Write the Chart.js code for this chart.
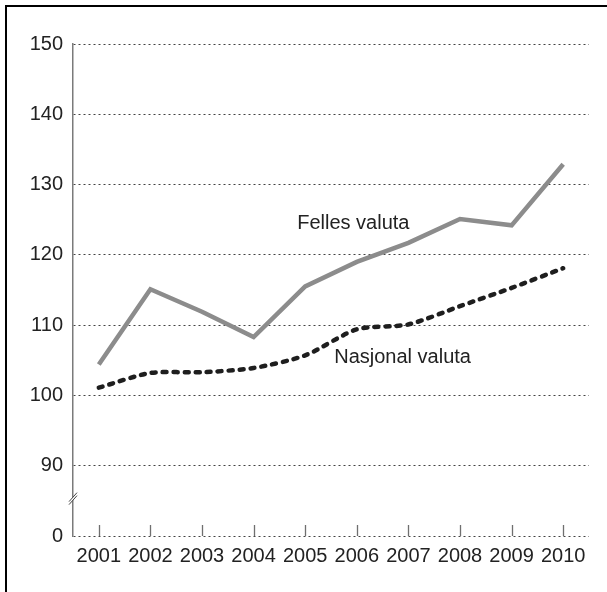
<!DOCTYPE html>
<html>
<head>
<meta charset="utf-8">
<script src="https://cdn.jsdelivr.net/npm/chart.js@4"></script>
<style>
html,body{margin:0;padding:0;background:#fff;overflow:hidden;}
#wrap{position:relative;width:607px;height:592px;}
#frame{position:absolute;left:5px;top:5px;width:700px;height:700px;border-left:2px solid #000;border-top:2px solid #000;}
canvas{position:absolute;left:0;top:0;}
</style>
</head>
<body>
<div id="wrap">
<div id="frame"></div>
<canvas id="c" width="607" height="592"></canvas>
</div>
<script>
const years = ['2001','2002','2003','2004','2005','2006','2007','2008','2009','2010'];
const fellesValuta = [104.4, 115.1, 111.9, 108.3, 115.5, 119.0, 121.7, 125.1, 124.2, 132.9];
const nasjonalValuta = [101.1, 103.2, 103.3, 103.9, 105.7, 109.4, 110.1, 112.7, 115.3, 118.1];
const yTickValues = [80, 90, 100, 110, 120, 130, 140, 150];
const yTickLabels = ['0', '90', '100', '110', '120', '130', '140', '150'];
const seriesNames = ['Felles valuta', 'Nasjonal valuta'];

const FONT = 'Liberation Sans, Arial, sans-serif';

const extras = {
  id: 'extras',
  afterDatasetsDraw(chart) {
    const ctx = chart.ctx;
    const xs = chart.scales.x, ys = chart.scales.y;
    const bottom = chart.chartArea.bottom;
    const ax = chart.chartArea.left;
    ctx.save();
    // category tick marks pointing up
    ctx.strokeStyle = '#6f6f6f';
    ctx.lineWidth = 1.3;
    years.forEach((y, i) => {
      const px = Math.round(xs.getPixelForValue(i)) + 0.5;
      ctx.beginPath();
      ctx.moveTo(px, bottom);
      ctx.lineTo(px, bottom - 11);
      ctx.stroke();
    });
    // axis break mark
    const by = ys.getPixelForValue(85.6);
    ctx.fillStyle = '#fff';
    ctx.beginPath();
    ctx.moveTo(ax - 4, by + 5);
    ctx.lineTo(ax + 4, by - 4);
    ctx.lineTo(ax + 4, by - 1);
    ctx.lineTo(ax - 4, by + 8);
    ctx.closePath();
    ctx.fill();
    ctx.strokeStyle = '#444';
    ctx.lineWidth = 1;
    ctx.beginPath();
    ctx.moveTo(ax - 4, by + 5); ctx.lineTo(ax + 4, by - 4);
    ctx.moveTo(ax - 4, by + 8); ctx.lineTo(ax + 4, by - 1);
    ctx.stroke();
    // series labels
    ctx.fillStyle = '#222';
    ctx.font = '20px ' + FONT;
    ctx.textBaseline = 'middle';
    ctx.textAlign = 'left';
    ctx.fillText(seriesNames[0], xs.getPixelForValue(4) - 8, ys.getPixelForValue(124.4));
    ctx.fillText(seriesNames[1], xs.getPixelForValue(4) + 29, ys.getPixelForValue(105.4));
    ctx.restore();
  }
};

new Chart(document.getElementById('c'), {
  type: 'line',
  data: {
    labels: years,
    datasets: [
      {
        label: seriesNames[0],
        data: fellesValuta,
        borderColor: '#8c8c8c',
        borderWidth: 4.5,
        pointRadius: 0,
        tension: 0,
        borderJoinStyle: 'miter',
        borderCapStyle: 'butt'
      },
      {
        label: seriesNames[1],
        data: nasjonalValuta,
        borderColor: '#1e1e1e',
        borderWidth: 4.5,
        borderDash: [4, 7],
        borderCapStyle: 'round',
        pointRadius: 0,
        tension: 0.25
      }
    ]
  },
  options: {
    responsive: false,
    animation: false,
    devicePixelRatio: 1,
    layout: { padding: { top: 44, right: 18, left: 0, bottom: 0 } },
    plugins: { legend: { display: false }, tooltip: { enabled: false } },
    scales: {
      x: {
        offset: true,
        grid: { display: false, drawTicks: false },
        border: { display: false },
        ticks: { color: '#222', font: { size: 20, family: FONT }, padding: 8, maxRotation: 0, autoSkip: false },
        afterFit(s) { s.height = 56; }
      },
      y: {
        min: 80, max: 150,
        afterBuildTicks(s) { s.ticks = yTickValues.map(v => ({ value: v })); },
        grid: {
          drawTicks: false,
          color: '#444',
          lineWidth: 1
        },
        border: { display: true, color: '#7a7a7a', width: 1.5, dash: [2, 3] },
        ticks: {
          color: '#222',
          font: { size: 20, family: FONT },
          padding: 10,
          callback(v) { const i = yTickValues.indexOf(v); return i >= 0 ? yTickLabels[i] : ''; }
        },
        afterFit(s) { s.width = 73; }
      }
    }
  },
  plugins: [extras]
});
</script>
</body>
</html>
